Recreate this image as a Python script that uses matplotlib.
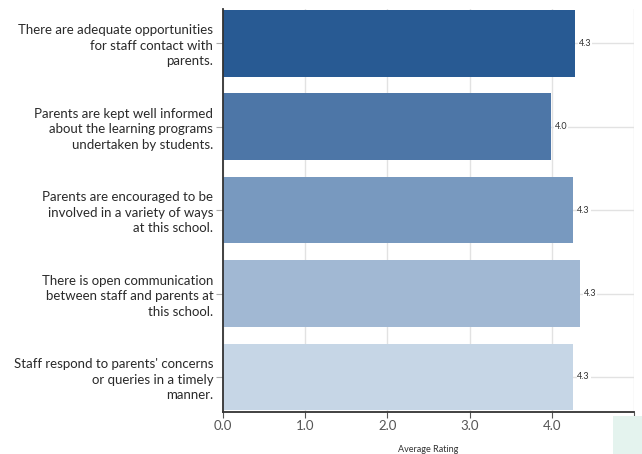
import matplotlib
matplotlib.use("Agg")
import matplotlib.pyplot as plt
from matplotlib.patches import Rectangle

statements = [
    "There are adequate opportunities\nfor staff contact with\nparents.",
    "Parents are kept well informed\nabout the learning programs\nundertaken by students.",
    "Parents are encouraged to be\ninvolved in a variety of ways\nat this school.",
    "There is open communication\nbetween staff and parents at\nthis school.",
    "Staff respond to parents' concerns\nor queries in a timely\nmanner.",
]
ratings = [4.28, 3.99, 4.26, 4.34, 4.26]
bar_colors = ["#285a93", "#4d76a7", "#7899bf", "#a1b8d3", "#c6d6e6"]
x_ticks = [0.0, 1.0, 2.0, 3.0, 4.0, 5.0]
x_tick_labels = ["0.0", "1.0", "2.0", "3.0", "4.0", ""]

plt.rcParams["font.family"] = ["Lato", "DejaVu Sans"]

W, H = 642, 454
fig = plt.figure(figsize=(W / 100, H / 100), dpi=100)
ax = fig.add_axes([223 / W, 1 - 412 / H, (634 - 223) / W, (412 - 9) / H])

ypos = list(range(len(statements)))
ax.barh(ypos, ratings, height=0.8, color=bar_colors, zorder=2)

for y, v in zip(ypos, ratings):
    ax.text(v + 0.05, y, f"{v:.1f}", va="center", ha="left",
            fontsize=6.5, color="#333333", zorder=3,
            bbox=dict(facecolor="white", edgecolor="none", pad=0.5))

ax.set_xlim(0, 4.98)
ax.set_ylim(4.42, -0.41)
ax.set_yticks(ypos)
ax.set_yticklabels(statements, fontsize=9.5, color="#2a2a2a", linespacing=1.35)
ax.set_xticks(x_ticks)
ax.set_xticklabels(x_tick_labels, fontsize=9.5, color="#555555")

ax.grid(True, color="#e2e2e2", linewidth=1.0, zorder=0)
ax.set_axisbelow(True)

for side in ("top", "right"):
    ax.spines[side].set_visible(False)
for side in ("left", "bottom"):
    ax.spines[side].set_color("#333333")
    ax.spines[side].set_linewidth(1.3)

ax.tick_params(axis="y", length=5, color="#aaaaaa", pad=2)
ax.tick_params(axis="x", length=4, color="#555555", pad=2)

ax.set_xlabel("Average Rating", fontsize=6.5, color="#333333", labelpad=9)

fig.patches.append(Rectangle((613 / W, 0), (W - 613) / W, (454 - 416) / H,
                             transform=fig.transFigure, facecolor="#e4f3ee",
                             edgecolor="none", zorder=0))

fig.savefig("out.png", dpi=100)
